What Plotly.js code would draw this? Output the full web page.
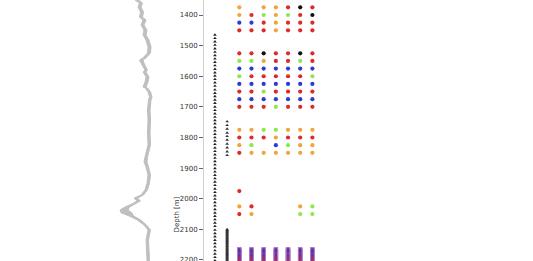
<!DOCTYPE html>
<html><head><meta charset="utf-8">
<script src="https://cdn.plot.ly/plotly-3.0.1.min.js"></script>
<style>html,body{margin:0;padding:0;background:#fff}</style>
</head><body><div id="chart" style="width:533px;height:261px"></div>
<script>
// ---- log curve (grey band) ----
const logDepth = [1351,1361,1374,1390,1407,1416,1433,1449,1465,1482,1504,1524,1540,1547,1557,1570,1580,1586,1602,1619,1635,1638,1651,1668,1678,1710,1743,1785,1824,1864,1880,1896,1922,1949,1971,1988,1998,2007,2017,2027,2037,2046,2056,2069,2086,2102,2118,2135,2167,2203];
const logMin = [35,39.5,38,40.5,39.5,43,41,44,43,46,48,47.5,43,39.5,41,43,45,43,46,45,43,45,48,49.5,48.5,47.5,48,47.5,48,45,44,46,48,47,45,41,34,37,32,25,20,21,29,37,44,48,47,46,46.5,47];
const logMax = [38.5,42.5,41,43.5,42.5,46,44,47,46,49,51,50.5,46,43,44,46,47.5,46,49,48,46,47.5,50.5,52,51,50,50.5,50,50.5,47.5,47,48.5,50.5,49.5,47.5,43.5,37.5,40.5,35.5,29.5,28,32,33.5,40.5,46.5,50.5,49.5,48.5,49,49.5];

// ---- sample columns ----
const yTicks = [1400,1500,1600,1700,1800,1900,2000,2100,2200];
const col0Depth = [1465,1476,1487,1498,1510,1521,1532,1543,1554,1565,1577,1588,1599,1610,1621,1632,1644,1655,1666,1677,1688,1700,1711,1722,1733,1744,1755,1767,1778,1789,1800,1811,1822,1834,1845,1856,1867,1878,1889,1901,1912,1923,1934,1945,1956,1968,1979,1990,2001,2012,2023,2035,2046,2057,2068,2079,2090,2102,2113,2124,2135,2146,2157,2169,2180,2191,2202];
const col1Depth = [1748,1760,1772,1785,1796,1808,1821,1833,1846,1858,2100,2103,2106,2109,2112,2115,2118,2121,2124,2127,2130,2133,2136,2139,2142,2145,2148,2151,2154,2157,2160,2163,2166,2169,2172,2175,2178,2181,2184,2187,2190,2193,2196,2199,2202,2205];
const gridDepth = [1375,1400,1425,1450,1525,1550,1575,1600,1625,1650,1675,1700,1775,1800,1825,1850,1975,2025,2050];
// class codes for columns 2..8 (O orange, R red, G green, B blue, K black, . none)
const gridClass = ["O.OORKR","ORGOGRK","BBRORRR","RRRORRR","RRKRRKR","GGORRGR","BBBBBBB","GRRRRRG","BBBBBBB","RRGRRRR","BBBBBBB","RRRGRRR","OOGGOOO","RRRORRR","OG.BGOO","ROOOOOO","R......","OR...OG","RO...GG"];
const denseDepth = [2165,2168,2171,2174,2177,2180,2183,2186,2189,2192,2195,2198,2201,2204];
const denseClass = ["B","R","B","B","R","B","R","B","B","R","B","R","B","R"];

const palette = {O:'#f0a43a', R:'#dd2a2a', G:'#8ee84a', B:'#2a3bdb', K:'#111111', P:'#b27ac6'};

const traces = [];
traces.push({x: logMin, y: logDepth, xaxis:'x2', yaxis:'y2', mode:'lines', line:{color:'#bfbfbf', width:1}, hoverinfo:'skip'});
traces.push({x: logMax, y: logDepth, xaxis:'x2', yaxis:'y2', mode:'lines', fill:'tonextx', fillcolor:'#bfbfbf', line:{color:'#bfbfbf', width:1}, hoverinfo:'skip'});

traces.push({x: col0Depth.map(()=>0), y: col0Depth, mode:'markers', marker:{symbol:'triangle-up', size:3.2, color:'#222'}});
traces.push({x: col1Depth.map(()=>1), y: col1Depth, mode:'markers', marker:{symbol:'triangle-up', size:3.2, color:'#333'}});

const gx = [], gy = [], gc = [];
gridClass.forEach((row, i) => {
  for (let j = 0; j < row.length; j++) {
    const c = row[j];
    if (c === '.') continue;
    gx.push(j + 2); gy.push(gridDepth[i]); gc.push(palette[c]);
  }
});
// dense interval: purple band behind blue/red samples
const bx = [], by = [];
const dx = [], dy = [], dc = [];
for (let j = 0; j < 7; j++) {
  denseDepth.forEach((d, i) => {
    bx.push(j + 2); by.push(d);
    dx.push(j + 2); dy.push(d); dc.push(palette[denseClass[i]]);
  });
}
traces.push({x: bx, y: by, mode:'markers', marker:{symbol:'square', size:4.5, color:palette.P, line:{width:0}}});
traces.push({x: dx, y: dy, mode:'markers', marker:{symbol:'circle', size:2.6, color:dc, line:{width:0}}});
traces.push({x: gx, y: gy, mode:'markers', marker:{symbol:'circle', size:4.2, color:gc, line:{width:0}}});

const W = 533, H = 261;
const spineX = 203.5, colStep = 12.18;
const layout = {
  width: W, height: H, margin:{l:0,r:0,t:0,b:0},
  paper_bgcolor:'#fff', plot_bgcolor:'rgba(0,0,0,0)', showlegend:false,
  xaxis:{domain:[spineX/W, (spineX + 10*colStep)/W], range:[-0.94, 9.06], visible:false},
  yaxis:{domain:[0,1], range:[2203.3, 1351], tickvals:yTicks, ticktext:yTicks.map(String),
         ticks:'outside', ticklen:3.5, tickwidth:1, tickcolor:'#666', ticklabeloverflow:'allow',
         showline:true, linecolor:'#d0d0d0', linewidth:1, showgrid:false, zeroline:false,
         tickfont:{family:'DejaVu Sans', size:7, color:'#333'}},
  xaxis2:{domain:[100/W, 160/W], range:[0,60], visible:false},
  yaxis2:{domain:[0,1], range:[2203.3, 1351], visible:false, anchor:'x2'},
  annotations:[{text:'Depth [m]', xref:'paper', yref:'paper', x:176.5/W, y:1-215/H, textangle:-90,
    xanchor:'center', yanchor:'middle',
    showarrow:false, font:{family:'DejaVu Sans', size:7, color:'#333'}}]
};
Plotly.newPlot('chart', traces, layout, {staticPlot:true});
</script></body></html>
